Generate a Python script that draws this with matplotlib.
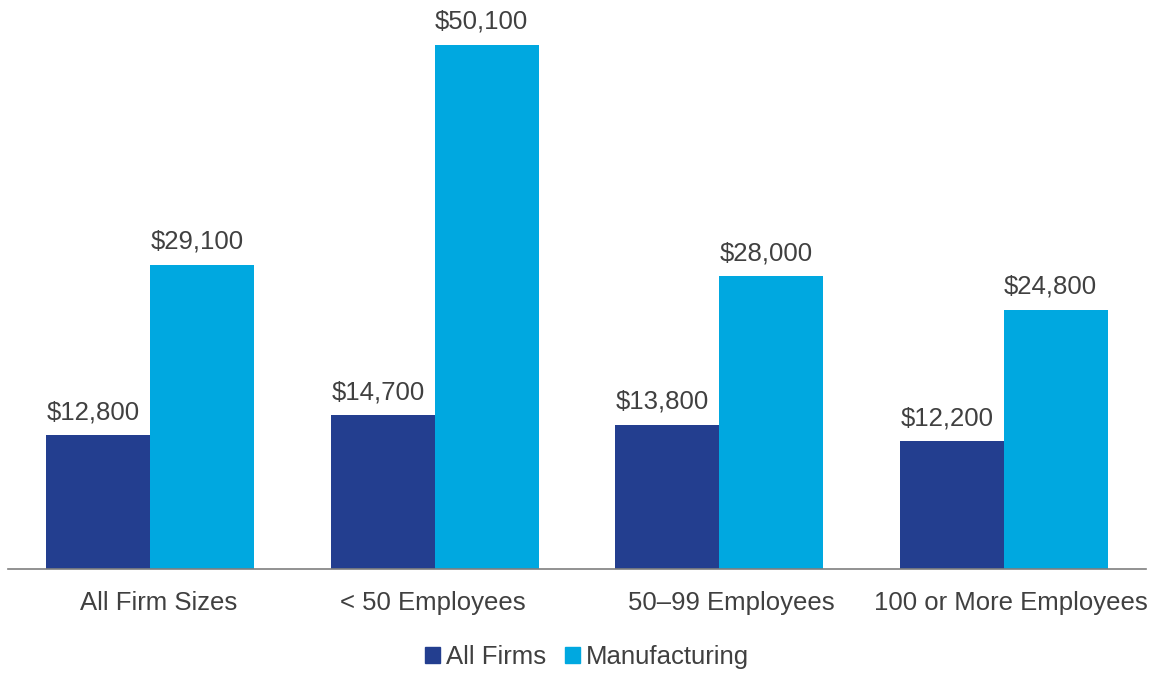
import numpy as np
import matplotlib.pyplot as plt
import matplotlib.transforms as mtransforms
from matplotlib.patches import Patch

categories = ['All Firm Sizes', '< 50 Employees', '50–99 Employees', '100 or More Employees']
all_firms = [12800, 14700, 13800, 12200]
manufacturing = [29100, 50100, 28000, 24800]

dark = '#233E8F'
light = '#00A8E0'
txt = '#404040'

plt.rcParams['font.family'] = ['Liberation Sans', 'DejaVu Sans']

fig = plt.figure(figsize=(11.55, 6.73), dpi=100)
ax = fig.add_axes([0.0069, 0.1545, 0.9853, 0.8082])

x = np.arange(len(categories))
w = 0.365
b1 = ax.bar(x - w / 2, all_firms, w, color=dark, label='All Firms')
b2 = ax.bar(x + w / 2, manufacturing, w, color=light, label='Manufacturing')

# value labels, sitting a touch left of the bar centre like the original
for bars, vals in [(b1, all_firms), (b2, manufacturing)]:
    for bar, v in zip(bars, vals):
        ax.annotate('${:,}'.format(v), (bar.get_x() + bar.get_width() / 2, v),
                    xytext=(-3.6, 8), textcoords='offset points',
                    ha='center', va='bottom', fontsize=18.5, color=txt)

ax.set_xlim(-0.5, 3.5)
ax.set_ylim(0, 52000)
ax.set_xticks(x)
ax.set_xticklabels(categories, fontsize=18.5, color=txt)
ax.tick_params(axis='x', length=0, pad=16)
# labels in the original sit a little right of the group centres
shifts = [8, -2, 12, 7]
for lab, dx in zip(ax.get_xticklabels(), shifts):
    lab.set_transform(lab.get_transform() + mtransforms.ScaledTranslation(dx / 100, 0, fig.dpi_scale_trans))
ax.set_yticks([])
for s in ['top', 'right', 'left']:
    ax.spines[s].set_visible(False)
ax.spines['bottom'].set_color('#7f7f7f')
ax.spines['bottom'].set_linewidth(1.2)

handles = [Patch(color=dark, label='All Firms'), Patch(color=light, label='Manufacturing')]
leg = fig.legend(handles=handles, loc='center', bbox_to_anchor=(0.508, 0.024), ncol=2,
                 frameon=False, fontsize=18.5, handlelength=0.58, handleheight=0.58,
                 handletextpad=0.23, columnspacing=0.74)
for t in leg.get_texts():
    t.set_color(txt)

fig.savefig('out.png', dpi=100)
